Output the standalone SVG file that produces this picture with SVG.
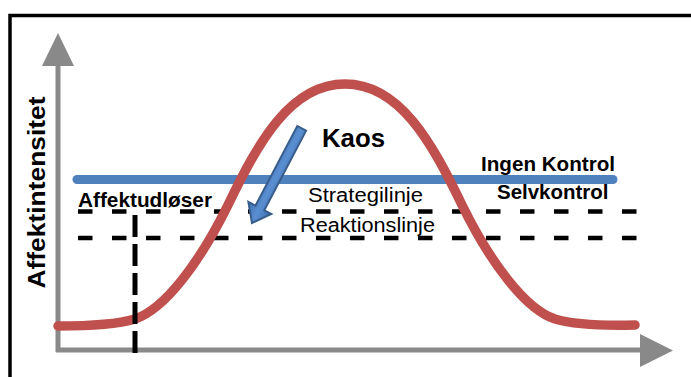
<svg xmlns="http://www.w3.org/2000/svg" width="691" height="377" viewBox="0 0 691 377">
  <style>
    .axis { stroke: #898989; stroke-width: 5; fill: none; }
    .axhead { fill: #898989; }
    .hdash { stroke: #000; stroke-width: 4.5; stroke-dasharray: 14.5 19.5; fill: none; }
    .vdash { stroke: #000; stroke-width: 5; stroke-dasharray: 22 7; fill: none; }
    .lbl { font-family: "Liberation Sans", Arial, sans-serif; fill: #000; }
    .b { font-weight: bold; }
  </style>
  <defs>
    <linearGradient id="arrowGrad" x1="0" y1="0" x2="0" y2="1">
      <stop offset="0" stop-color="#3f6faf"/>
      <stop offset="0.5" stop-color="#5a8fd2"/>
      <stop offset="1" stop-color="#3f6faf"/>
    </linearGradient>
  </defs>
  <rect x="0" y="0" width="691" height="377" fill="#fff"/>
  <rect id="frame" x="10" y="15.5" width="720" height="420" fill="none" stroke="#000" stroke-width="3.5"/>

  <g id="axes">
    <line class="axis" x1="58" y1="64" x2="58" y2="352"/>
    <line class="axis" x1="56" y1="350" x2="642" y2="350"/>
    <polygon class="axhead" points="58,33 74,66 42,66"/>
    <polygon class="axhead" points="673,350.5 640,334 640,367"/>
  </g>

  <g id="connectors">
    <line id="ingen-kontrol-line" x1="77" y1="179.5" x2="613" y2="179.5" stroke="#4f81bd" stroke-width="9" stroke-linecap="round"/>
    <line id="strategilinje" class="hdash" x1="78" y1="211.5" x2="640" y2="211.5"/>
    <line id="reaktionslinje" class="hdash" x1="78" y1="238" x2="640" y2="238"/>
    <path id="curve" d="M58,326 C95,326 118,324 135,319 C165,309 200,262 228,205 C258,143 290,84 345,84 C400,84 432,143 462,205 C490,262 525,309 555,319 C572,324 595,326 635,325" fill="none" stroke="#c0504d" stroke-width="9.5" stroke-linecap="round"/>
    <line id="affektudloser-line" class="vdash" x1="135" y1="215" x2="135" y2="356"/>
    <g id="kaos-arrow" transform="translate(301.7,128.3) rotate(117.7)">
      <polygon points="0,-5 90,-5 90,-13 107,0 90,13 90,5 0,5" fill="url(#arrowGrad)" stroke="#385d8a" stroke-width="2" stroke-linejoin="miter"/>
    </g>
  </g>

  <g id="y-label">
    <text class="lbl b" x="44.5" y="192.5" font-size="23" text-anchor="middle" transform="rotate(-90 44.5 192.5)" textLength="192" lengthAdjust="spacingAndGlyphs">Affektintensitet</text>
  </g>
  <g id="kaos">
    <text class="lbl b" x="322" y="146.7" font-size="25.5" textLength="63" lengthAdjust="spacingAndGlyphs">Kaos</text>
  </g>
  <g id="ingen-kontrol">
    <text class="lbl b" x="481" y="170.5" font-size="20.5" textLength="134" lengthAdjust="spacingAndGlyphs">Ingen Kontrol</text>
  </g>
  <g id="selvkontrol">
    <text class="lbl b" x="497" y="199.3" font-size="20.5" textLength="111.5" lengthAdjust="spacingAndGlyphs">Selvkontrol</text>
  </g>
  <g id="strategilinje-label">
    <text class="lbl" x="308" y="201.7" font-size="19.5" textLength="115" lengthAdjust="spacingAndGlyphs">Strategilinje</text>
  </g>
  <g id="reaktionslinje-label">
    <text class="lbl" x="300" y="231.7" font-size="19.5" textLength="135" lengthAdjust="spacingAndGlyphs">Reaktionslinje</text>
  </g>
  <g id="affektudloser">
    <text class="lbl b" x="78" y="206.7" font-size="20.5" textLength="134" lengthAdjust="spacingAndGlyphs">Affektudløser</text>
  </g>
</svg>
